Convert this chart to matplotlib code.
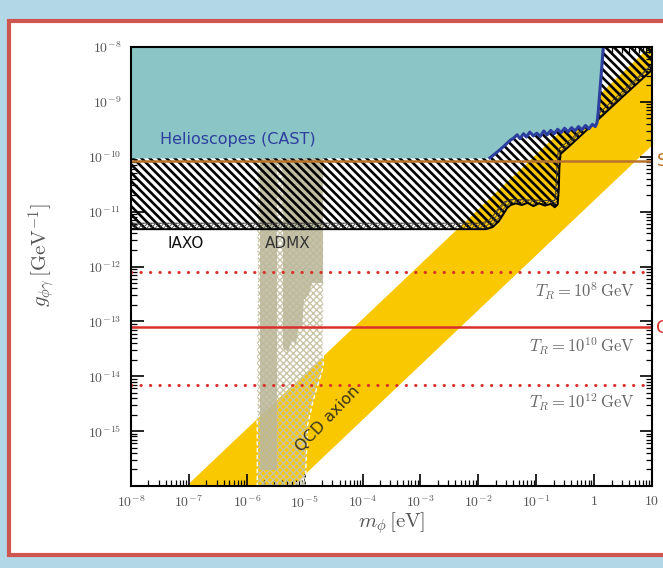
import numpy as np
import matplotlib.pyplot as plt
from matplotlib.patches import Rectangle
from matplotlib.ticker import LogLocator, FuncFormatter, NullFormatter, FixedLocator

plt.rcParams['mathtext.fontset'] = 'cm'
plt.rcParams['font.family'] = ['DejaVu Sans']

# --- data (log10 of m in eV, log10 of g in GeV^-1) ---
# CAST helioscope limit (lower edge of the excluded region)
cast_logm = [-8.0, -1.80, -1.68, -1.55, -1.45, -1.39,
             -1.33, -1.28, -1.22, -1.17, -1.11, -1.05, -0.99, -0.93, -0.87, -0.81,
             -0.75, -0.69, -0.63, -0.57, -0.51, -0.45, -0.39, -0.33, -0.27, -0.21,
             -0.15, -0.09, -0.03, 0.02, 0.05, 0.07, 0.10, 0.13, 0.16, 0.20]
cast_logg = [-10.02, -10.02, -9.92, -9.80, -9.70, -9.66,
             -9.60, -9.67, -9.58, -9.64, -9.55, -9.62, -9.57, -9.63, -9.53, -9.60,
             -9.52, -9.58, -9.50, -9.56, -9.48, -9.55, -9.47, -9.53, -9.45, -9.51,
             -9.43, -9.49, -9.41, -9.45, -9.38, -9.20, -8.80, -8.40, -8.00, -7.50]

# IAXO sensitivity (lower curve) and the baseline curve just above it
iaxo_logm = [-8.0, -1.86, -1.75, -1.65, -1.57, -1.50, -1.44, -1.35, -1.25, -1.15,
             -1.05, -0.95, -0.85, -0.75, -0.68, -0.63, -0.61, -0.60, -0.58, -0.40,
             0.0, 0.5, 1.1]
iaxo_logg = [-11.32, -11.32, -11.28, -11.18, -11.05, -10.93, -10.88, -10.85, -10.88, -10.84,
             -10.90, -10.85, -10.89, -10.86, -10.92, -10.87, -10.60, -10.20, -9.95, -9.78,
             -9.39, -8.90, -8.32]
iaxo_hi_logm = [-8.0, -1.95, -1.82, -1.72, -1.63, -1.55, -1.45, -1.35, -0.68, -0.66,
                -0.64, -0.62, -0.40, 0.0, 0.5, 1.1]
iaxo_hi_logg = [-11.21, -11.21, -11.16, -11.04, -10.91, -10.82, -10.78, -10.78, -10.80, -10.54,
                -10.14, -9.86, -9.68, -9.29, -8.80, -8.22]

# QCD axion band corners
qcd_m = [1e-9, 1e2, 1e2, 1e-9]
qcd_g = [1.1e-18, 1.1e-7, 1.6e-9, 1.6e-20]

# ADMX: projected reach (hatched) and current exclusion (solid)
admx_proj_logm = [-5.82, -4.68, -4.68, -4.85, -4.95, -4.99, -5.82]
admx_proj_logg = [-10.0, -10.0, -13.83, -14.43, -14.89, -16.0, -16.0]
admx_a_logm = [-5.78, -5.47, -5.47, -5.78]
admx_a_logg = [-10.0, -10.0, -15.7, -15.7]
admx_b_logm = [-5.375, -4.684, -4.684, -4.874, -4.926, -5.012, -5.047, -5.098, -5.150,
               -5.219, -5.288, -5.375]
admx_b_logg = [-10.0, -10.0, -12.30, -12.30, -12.52, -12.61, -13.15, -13.06, -13.43,
               -13.34, -13.56, -13.48]

# reheating temperature lines
tr_g = [8e-13, 8e-14, 7e-15]
tr_style = ['dot', 'solid', 'dot']
tr_labels = [r'$T_R = 10^{8}\,\mathrm{GeV}$', r'$T_R = 10^{10}\,\mathrm{GeV}$',
             r'$T_R = 10^{12}\,\mathrm{GeV}$']
tr_label_g = [3.5e-13, 3.5e-14, 3.4e-15]

hb_g = 8.5e-11

teal = '#8cc5c5'
gold = '#fac800'
tan = '#bcb89b'
blue = '#2c3e9e'
red = '#d9302c'

def p10(a):
    return 10.0 ** np.array(a)

fig = plt.figure(figsize=(6.63, 5.68), dpi=100)
fig.patch.set_facecolor('#b2d8e8')
fig.add_artist(Rectangle((9 / 663, 1 - 555 / 568), 700 / 663, 534 / 568,
                         transform=fig.transFigure, facecolor='white',
                         edgecolor='#cf5650', lw=3, zorder=-5))

ax = fig.add_axes([131 / 663, 1 - 486 / 568, 521 / 663, 439 / 568])
ax.set_xscale('log')
ax.set_yscale('log')
ax.set_xlim(1e-8, 10)
ax.set_ylim(1e-16, 1e-8)

# QCD band
ax.fill(qcd_m, qcd_g, color=gold, lw=0, zorder=1)

# ADMX
with plt.rc_context({'hatch.linewidth': 1.0}):
    ax.fill(p10(admx_proj_logm), p10(admx_proj_logg), facecolor='none',
            edgecolor='#c9c4a6', hatch='xxxxx', lw=0, zorder=2)
ax.fill(p10(admx_proj_logm), p10(admx_proj_logg), facecolor='none',
        edgecolor='white', ls=(0, (3, 2)), lw=1.0, zorder=2.1)
ax.fill(p10(admx_a_logm), p10(admx_a_logg), color=tan, alpha=0.85, lw=0, zorder=3)
ax.fill(p10(admx_b_logm), p10(admx_b_logg), color=tan, alpha=0.85, lw=0, zorder=3)

# IAXO
with plt.rc_context({'hatch.linewidth': 1.9}):
    ax.fill_between(p10(iaxo_logm), p10(iaxo_logg), 1e-6, facecolor='none',
                    edgecolor='black', hatch='\\\\\\\\', lw=0, zorder=4)
band_m = np.concatenate([p10(iaxo_hi_logm), p10(iaxo_logm)[::-1]])
band_g = np.concatenate([p10(iaxo_hi_logg), p10(iaxo_logg)[::-1]])
with plt.rc_context({'hatch.linewidth': 0.6}):
    ax.fill(band_m, band_g, facecolor='none', edgecolor='#444444', hatch='////////',
            lw=0, zorder=4.2)
ax.plot(p10(iaxo_hi_logm), p10(iaxo_hi_logg), color='#333333', lw=0.6, zorder=4.3)
ax.plot(p10(iaxo_logm), p10(iaxo_logg), color='black', lw=1.4, zorder=4.3)

# reheating lines
for g, st in zip(tr_g, tr_style):
    if st == 'dot':
        ax.axhline(g, color=red, lw=2.2, ls=(0, (0.1, 3.0)),
                   dash_capstyle='round', zorder=5)
    else:
        ax.axhline(g, color=red, lw=1.8, zorder=5)
for g, lab in zip(tr_label_g, tr_labels):
    ax.text(5.0, g, lab, ha='right', va='center', fontsize=12, color='#666666',
            zorder=10)

# CAST
ax.fill_between(p10(cast_logm), p10(cast_logg), 1e-6, color=teal, lw=0, zorder=6)
ax.plot(p10(cast_logm[1:]), p10(cast_logg[1:]), color=blue, lw=2.2, zorder=7)
ax.axhline(hb_g, color='#b8742c', lw=1.8, zorder=7)

# labels
ax.text(10 ** -7.5, 10 ** -9.69, 'Helioscopes (CAST)', color=blue, fontsize=11.5,
        ha='left', va='center', zorder=10)
ax.text(10 ** -7.06, 10 ** -11.58, 'IAXO', color='#111111', fontsize=11,
        ha='center', va='center', zorder=10)
ax.text(10 ** -5.3, 10 ** -11.58, 'ADMX', color='#333333', fontsize=11,
        ha='center', va='center', zorder=10)
ax.text(10 ** -4.6, 10 ** -14.78, 'QCD axion', color='#3a3520', fontsize=11.5,
        ha='center', va='center', rotation=46, zorder=10)

# cut-off labels on the right of the slide
fig.text(657 / 663, 1 - 161 / 568, 'S', color='#b8742c', fontsize=13,
         ha='left', va='center')
fig.text(656 / 663, 1 - 328 / 568, 'C', color=red, fontsize=13,
         ha='left', va='center')

# ticks
def xfmt(v, pos):
    e = int(round(np.log10(v)))
    if e == 0:
        return r'$1$'
    if e == 1:
        return r'$10$'
    return r'$10^{%d}$' % e

def yfmt(v, pos):
    return r'$10^{%d}$' % int(round(np.log10(v)))

ax.xaxis.set_major_locator(FixedLocator(p10(np.arange(-8, 2))))
ax.yaxis.set_major_locator(FixedLocator(p10(np.arange(-15, -7))))
ax.xaxis.set_major_formatter(FuncFormatter(xfmt))
ax.yaxis.set_major_formatter(FuncFormatter(yfmt))
for a in (ax.xaxis, ax.yaxis):
    a.set_minor_locator(LogLocator(base=10, subs=np.arange(2, 10), numticks=100))
    a.set_minor_formatter(NullFormatter())
ax.tick_params(which='both', direction='in', top=True, right=True, colors='black',
               labelcolor='#555555', labelsize=10)
ax.tick_params(which='major', length=9, width=1.2)
ax.tick_params(which='minor', length=4, width=0.9)
ax.tick_params(axis='x', pad=6)
ax.tick_params(axis='y', pad=7)
for s in ax.spines.values():
    s.set_linewidth(1.5)
    s.set_zorder(12)

ax.set_xlabel(r'$m_\phi\,[\mathrm{eV}]$', fontsize=15, color='#555555')
ax.set_ylabel(r'$g_{\phi\gamma}\,[\mathrm{GeV}^{-1}]$', fontsize=15, color='#555555')
ax.xaxis.set_label_coords(0.5, -0.055)
ax.yaxis.set_label_coords(-0.142, 0.526)

fig.savefig('out.png', dpi=100, facecolor=fig.get_facecolor())
